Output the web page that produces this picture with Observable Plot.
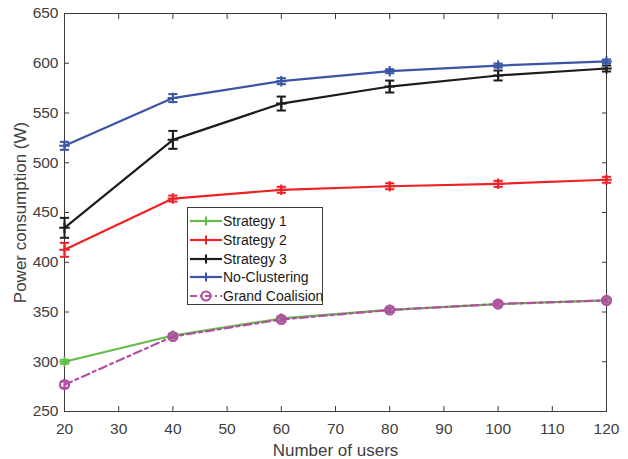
<!DOCTYPE html>
<html><head><meta charset="utf-8">
<script src="https://cdn.jsdelivr.net/npm/d3@7"></script>
<script src="https://cdn.jsdelivr.net/npm/@observablehq/plot@0.6"></script>
<style>
body{margin:0;background:#fff}
#wrap{position:relative;width:628px;height:459px;font-family:"Liberation Sans",Arial,sans-serif}
#legend{position:absolute;left:187px;top:207px;width:134px;height:96px;border:1px solid #3a3a3a;background:#fff;box-sizing:content-box}
#legend .row{position:absolute;left:0;height:18px;display:flex;align-items:center;font-size:14px;color:#1a1a1a;white-space:nowrap}
#legend svg{display:block}
</style>
</head><body><div id="wrap"></div>
<script>
const users = [20, 40, 60, 80, 100, 120];
const seriesNames = ["Strategy 1", "Strategy 2", "Strategy 3", "No-Clustering", "Grand Coalision"];
const seriesColors = ["#62bd46", "#ee2226", "#1c1c1c", "#3a55a6", "#b34fa3"];
const strategy1 = [300, 326.4, 343.5, 352.2, 358, 361.6];
const strategy1Err = [2, 2, 2, 2, 2, 2];
const strategy2 = [412.5, 464, 472.8, 476.4, 478.8, 482.9];
const strategy2Err = [7, 3, 3, 3, 3, 3];
const strategy3 = [434.6, 523, 559.5, 576.6, 587.7, 594.7];
const strategy3Err = [10, 9, 7, 6, 5, 3];
const noClustering = [517, 565, 582, 592, 597.7, 601.8];
const noClusteringErr = [4, 4, 3, 2, 2, 2];
const grandCoalition = [277, 325.4, 342.5, 352, 358, 361.6];
const grandCoalitionErr = [3, 2, 2, 2, 2, 2];
const xTicks = [20, 30, 40, 50, 60, 70, 80, 90, 100, 110, 120];
const yTicks = [250, 300, 350, 400, 450, 500, 550, 600, 650];

const values = [strategy1, strategy2, strategy3, noClustering, grandCoalition];
const errs = [strategy1Err, strategy2Err, strategy3Err, noClusteringErr, grandCoalitionErr];

const plusSymbol = {draw(ctx, size) { const r = Math.sqrt(size) * 0.9; ctx.moveTo(-r, 0); ctx.lineTo(r, 0); ctx.moveTo(0, -r); ctx.lineTo(0, r); }};
const capSymbol = {draw(ctx, size) { const r = Math.sqrt(size); ctx.moveTo(-r, 0); ctx.lineTo(r, 0); }};

const marks = [];
values.forEach((vals, si) => {
  const rows = users.map((u, i) => ({x: u, y: vals[i], lo: vals[i] - errs[si][i], hi: vals[i] + errs[si][i]}));
  const color = seriesColors[si];
  const isGC = si === 4;
  marks.push(Plot.line(rows, {x: "x", y: "y", stroke: color, strokeWidth: 2.2, strokeDasharray: isGC ? "8,4,3,4" : null}));
  marks.push(Plot.ruleX(rows, {x: "x", y1: "lo", y2: "hi", stroke: color, strokeWidth: 2}));
  marks.push(Plot.dot(rows, {x: "x", y: "lo", symbol: capSymbol, r: 2.6, stroke: color, strokeWidth: 2}));
  marks.push(Plot.dot(rows, {x: "x", y: "hi", symbol: capSymbol, r: 2.6, stroke: color, strokeWidth: 2}));
  if (isGC) marks.push(Plot.dot(rows, {x: "x", y: "y", r: 4.5, stroke: color, strokeWidth: 2.2, fill: "none"}));
  else marks.push(Plot.dot(rows, {x: "x", y: "y", symbol: plusSymbol, r: 3.3, stroke: color, strokeWidth: 2}));
});

const axisColor = "#3c3c3c";
const chart = Plot.plot({
  width: 628, height: 459,
  marginLeft: 64, marginTop: 13, marginRight: 22, marginBottom: 48,
  style: {fontFamily: '"Liberation Sans", Arial, sans-serif', fontSize: "15px", color: "#404040", background: "#fff"},
  x: {domain: [20, 120]},
  y: {domain: [250, 650]},
  marks: [
    Plot.axisX({anchor: "bottom", ticks: xTicks, tickSize: -5, tickPadding: 16, stroke: axisColor, label: null, fontSize: 15.5}),
    Plot.axisX({anchor: "bottom", ticks: [], label: "Number of users", labelAnchor: "center", labelArrow: "none", labelOffset: 44, fontSize: 17}),
    Plot.axisX({anchor: "top", ticks: xTicks, tickSize: -5, tickFormat: () => "", label: null, stroke: axisColor}),
    Plot.axisY({anchor: "left", ticks: yTicks, tickSize: -5, tickPadding: 11, stroke: axisColor, label: null, fontSize: 15.5}),
    Plot.axisY({anchor: "left", ticks: [], label: "Power consumption (W)", labelAnchor: "center", labelArrow: "none", labelOffset: 51, fontSize: 17}),
    Plot.axisY({anchor: "right", ticks: yTicks, tickSize: -5, tickFormat: () => "", label: null, stroke: axisColor}),
    Plot.frame({stroke: axisColor, strokeWidth: 1}),
    ...marks
  ]
});
const wrap = document.getElementById("wrap");
wrap.appendChild(chart);

const legend = document.createElement("div");
legend.id = "legend";
seriesNames.forEach((name, i) => {
  const row = document.createElement("div");
  row.className = "row";
  row.style.top = (4 + i * 18.8) + "px";
  const c = seriesColors[i];
  const isGC = i === 4;
  const marker = isGC
    ? `<circle cx="18" cy="9" r="4.5" fill="none" stroke="${c}" stroke-width="2.2"/>`
    : `<path d="M13.5,9H22.5M18,4.5V13.5" stroke="${c}" stroke-width="2" fill="none"/>`;
  row.innerHTML = `<svg width="35" height="18"><line x1="2" x2="34" y1="9" y2="9" stroke="${c}" stroke-width="2.2" ${isGC ? 'stroke-dasharray="7,3,2,3"' : ''}/>${marker}</svg><span>${name}</span>`;
  legend.appendChild(row);
});
wrap.appendChild(legend);
</script>
</body></html>
